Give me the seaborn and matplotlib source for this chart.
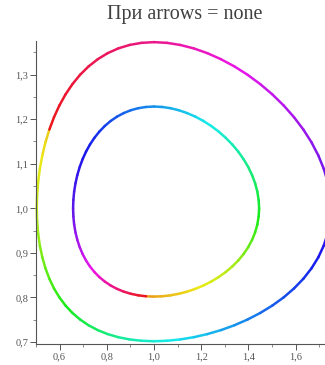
import matplotlib
matplotlib.use("Agg")
import matplotlib.pyplot as plt
from matplotlib.colors import hsv_to_rgb
from matplotlib.ticker import FuncFormatter, MultipleLocator, FixedLocator
import numpy as np
import pandas as pd
import seaborn as sns

# Outer orbit of the predator-prey system, traced counter-clockwise
outer_x = [0.5566, 0.5401, 0.5268, 0.5164, 0.5090, 0.5046, 0.5032, 0.5046,
           0.5090, 0.5164, 0.5268, 0.5401, 0.5566, 0.5762, 0.5990, 0.6250,
           0.6543, 0.6868, 0.7226, 0.7616, 0.8037, 0.8488, 0.8967, 0.9472,
           1.0000, 1.0547, 1.1109, 1.1681, 1.2259, 1.2836, 1.3407, 1.3964,
           1.4502, 1.5014, 1.5493, 1.5933, 1.6328, 1.6672, 1.6961, 1.7190,
           1.7357, 1.7457, 1.7491, 1.7457, 1.7357, 1.7190, 1.6961, 1.6672,
           1.6328, 1.5933, 1.5493, 1.5014, 1.4502, 1.3964, 1.3407, 1.2836,
           1.2259, 1.1681, 1.1109, 1.0547, 1.0000, 0.9472, 0.8967, 0.8488,
           0.8037, 0.7616, 0.7226, 0.6868, 0.6543, 0.6250, 0.5990, 0.5762,
           0.5566]
outer_y = [1.1766, 1.1480, 1.1187, 1.0890, 1.0592, 1.0294, 1.0000, 0.9711,
           0.9431, 0.9160, 0.8900, 0.8653, 0.8420, 0.8203, 0.8002, 0.7819,
           0.7653, 0.7506, 0.7377, 0.7268, 0.7179, 0.7109, 0.7059, 0.7029,
           0.7019, 0.7029, 0.7059, 0.7109, 0.7179, 0.7268, 0.7377, 0.7506,
           0.7653, 0.7819, 0.8002, 0.8203, 0.8420, 0.8653, 0.8900, 0.9160,
           0.9431, 0.9711, 1.0000, 1.0294, 1.0592, 1.0890, 1.1187, 1.1480,
           1.1766, 1.2042, 1.2306, 1.2554, 1.2784, 1.2994, 1.3181, 1.3343,
           1.3479, 1.3586, 1.3663, 1.3710, 1.3726, 1.3710, 1.3663, 1.3586,
           1.3479, 1.3343, 1.3181, 1.2994, 1.2784, 1.2554, 1.2306, 1.2042,
           1.1766]

# Inner orbit, also counter-clockwise
inner_x = [0.9662, 1.0000, 1.0346, 1.0697, 1.1050, 1.1403, 1.1751, 1.2093,
           1.2423, 1.2739, 1.3037, 1.3315, 1.3568, 1.3794, 1.3990, 1.4154,
           1.4284, 1.4378, 1.4434, 1.4454, 1.4434, 1.4378, 1.4284, 1.4154,
           1.3990, 1.3794, 1.3568, 1.3315, 1.3037, 1.2739, 1.2423, 1.2093,
           1.1751, 1.1403, 1.1050, 1.0697, 1.0346, 1.0000, 0.9662, 0.9334,
           0.9018, 0.8717, 0.8432, 0.8164, 0.7915, 0.7685, 0.7476, 0.7287,
           0.7120, 0.6975, 0.6852, 0.6751, 0.6673, 0.6616, 0.6583, 0.6571,
           0.6583, 0.6616, 0.6673, 0.6751, 0.6852, 0.6975, 0.7120, 0.7287,
           0.7476, 0.7685, 0.7915, 0.8164, 0.8432, 0.8717, 0.9018, 0.9334,
           0.9662]
inner_y = [0.8027, 0.8020, 0.8027, 0.8048, 0.8083, 0.8131, 0.8193, 0.8268,
           0.8357, 0.8457, 0.8570, 0.8694, 0.8829, 0.8973, 0.9127, 0.9290,
           0.9459, 0.9635, 0.9816, 1.0000, 1.0187, 1.0374, 1.0561, 1.0746,
           1.0927, 1.1102, 1.1271, 1.1431, 1.1581, 1.1720, 1.1846, 1.1958,
           1.2055, 1.2135, 1.2199, 1.2245, 1.2272, 1.2282, 1.2272, 1.2245,
           1.2199, 1.2135, 1.2055, 1.1958, 1.1846, 1.1720, 1.1581, 1.1431,
           1.1271, 1.1102, 1.0927, 1.0746, 1.0561, 1.0374, 1.0187, 1.0000,
           0.9816, 0.9635, 0.9459, 0.9290, 0.9127, 0.8973, 0.8829, 0.8694,
           0.8570, 0.8457, 0.8357, 0.8268, 0.8193, 0.8131, 0.8083, 0.8048,
           0.8027]

x_ticks = [0.6, 0.8, 1.0, 1.2, 1.4, 1.6]
y_ticks = [0.7, 0.8, 0.9, 1.0, 1.1, 1.2, 1.3]
title = "При arrows = none"

# Hue (hsv scale) along each orbit: (point index, hue)
OUTER_HUE = ([0, 6, 15, 24, 33, 42, 51, 60, 66, 72],
             [0.14, 0.20, 0.33, 0.48, 0.61, 0.71, 0.80, 0.91, 0.96, 1.0])
INNER_HUE = ([0, 10, 19, 28, 37, 46, 55, 64, 72],
             [0.10, 0.20, 0.35, 0.47, 0.57, 0.65, 0.72, 0.84, 1.0])

sns.set_theme(style="ticks")
plt.rcParams["font.family"] = ["Liberation Serif", "DejaVu Serif"]

fig = plt.figure(figsize=(3.25, 3.65), dpi=100)
ax = fig.add_axes([0.1108, 0.0567, 0.9077, 0.8308])

# Break each orbit into two-point segments so the colour can run along it
rows, palette = [], {}
for name, xs, ys, (knots, hues) in (("outer", outer_x, outer_y, OUTER_HUE),
                                    ("inner", inner_x, inner_y, INNER_HUE)):
    n = len(xs) - 1
    for i in range(n):
        key = f"{name}{i:02d}"
        h = float(np.interp(i + 0.5, knots, hues)) % 1.0
        palette[key] = tuple(hsv_to_rgb((h, 0.9, 0.92)))
        for j in (i, i + 1):
            rows.append({"x": xs[j], "y": ys[j], "seg": key})
df = pd.DataFrame(rows)

sns.lineplot(data=df, x="x", y="y", hue="seg", palette=palette, sort=False,
             estimator=None, legend=False, linewidth=1.8,
             solid_capstyle="round", clip_on=False, ax=ax)

ax.set_xlim(0.5, 1.75)
ax.set_ylim(0.695, 1.375)
ax.set_xlabel("")
ax.set_ylabel("")

for side in ("top", "right"):
    ax.spines[side].set_visible(False)
for side in ("left", "bottom"):
    ax.spines[side].set_color("#555555")
    ax.spines[side].set_linewidth(0.8)

comma = FuncFormatter(lambda v, _: f"{v:.1f}".replace(".", ","))
ax.xaxis.set_major_locator(FixedLocator(x_ticks))
ax.yaxis.set_major_locator(FixedLocator(y_ticks))
ax.xaxis.set_minor_locator(MultipleLocator(0.1))
ax.yaxis.set_minor_locator(MultipleLocator(0.05))
ax.xaxis.set_major_formatter(comma)
ax.yaxis.set_major_formatter(comma)
ax.tick_params(which="major", length=4.5, width=0.7, color="#555555",
               labelsize=7.5, labelcolor="#555555", pad=1)
ax.tick_params(which="minor", length=2.5, width=0.6, color="#777777")

fig.text(185 / 325, 1 - 15 / 365, title, ha="center", va="center",
         fontsize=14.5, color="#404040")

fig.savefig("out.png", dpi=100)
